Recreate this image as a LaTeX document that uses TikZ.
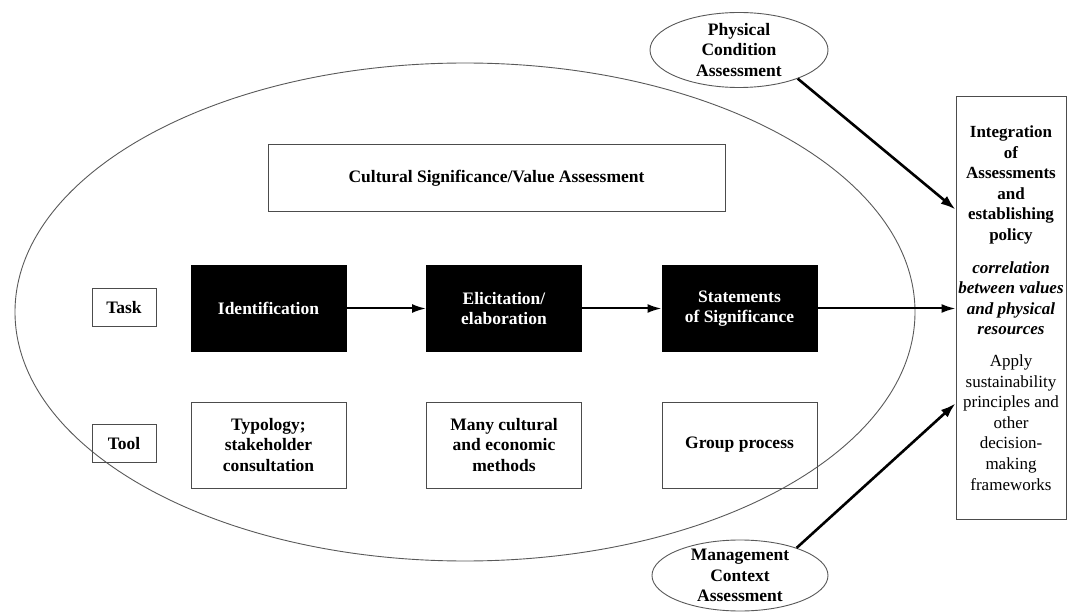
\documentclass[tikz,border=0pt]{standalone}
\usepackage{fontspec}
\setmainfont{Liberation Serif}
\usetikzlibrary{arrows.meta,shapes.geometric,calc}
\begin{document}
\begin{tikzpicture}[x=1pt,y=-1pt,
  every node/.style={font=\fontsize{17.5}{20.6}\selectfont\bfseries},
  box/.style={draw=black!70, line width=1pt, minimum width=155pt, minimum height=86pt, align=center, inner sep=0pt},
  blackbox/.style={box, fill=black, draw=black, text=white},
  smallbox/.style={draw=black!70, line width=1pt, minimum width=64pt, minimum height=38pt, inner sep=0pt},
  oval/.style={ellipse, draw=black!65, line width=0.9pt, inner sep=0pt},
  arr/.style={line width=2pt, -{Latex[length=14pt,width=9pt]}},
  diagarr/.style={line width=2.6pt, -{Latex[length=15pt,width=10pt]}}
]
\useasboundingbox (0,0) rectangle (1071,612);
\node[oval, minimum width=900pt, minimum height=498pt] (big) at (465,312) {};
\node[box, minimum width=457pt, minimum height=67pt] (csva) at (496.5,178.5) {Cultural Significance/Value Assessment};
\node[smallbox] (task) at (124,307.5) {Task};
\node[smallbox] (tool) at (124,443.5) {Tool};
\node[blackbox] (ident) at (268.5,308.5) {Identification};
\node[blackbox] (elic) at (504,308.5) {Elicitation/\\elaboration};
\node[blackbox] (stat) at (739.5,308.5) {Statements\\of Significance};
\node[box] (typ) at (268.5,445) {Typology;\\stakeholder\\consultation};
\node[box] (many) at (504,445) {Many cultural\\and economic\\methods};
\node[box] (group) at (739.5,445) {Group process};
\node[draw=black!70, line width=1pt, minimum width=110pt, minimum height=422pt, inner sep=0pt, align=center,
      font=\fontsize{17}{20.6}\selectfont\bfseries] (integ) at (1011,308)
  {Integration\\of\\Assessments\\and\\establishing\\policy\\[12pt]
   \textit{correlation}\\\textit{between values}\\\textit{and physical}\\\textit{resources}\\[11pt]
   \textmd{Apply}\\\textmd{sustainability}\\\textmd{principles and}\\\textmd{other}\\\textmd{decision-}\\\textmd{making}\\\textmd{frameworks}};
\node[oval, minimum width=178pt, minimum height=75pt, label={[align=center]center:Physical\\Condition\\Assessment}] (phys) at (739,50) {};
\node[oval, minimum width=176pt, minimum height=71pt, label={[align=center]center:Management\\Context\\Assessment}] (mgmt) at (740,575.5) {};
\draw[arr] (ident) -- (elic);
\draw[arr] (elic) -- (stat);
\draw[arr] (stat) -- (stat -| integ.west);
\draw[diagarr] (phys.-26) -- ($(integ.north west)+(0,113)$);
\draw[diagarr] (mgmt.26) -- ($(integ.north west)+(0,307)$);
\end{tikzpicture}
\end{document}
